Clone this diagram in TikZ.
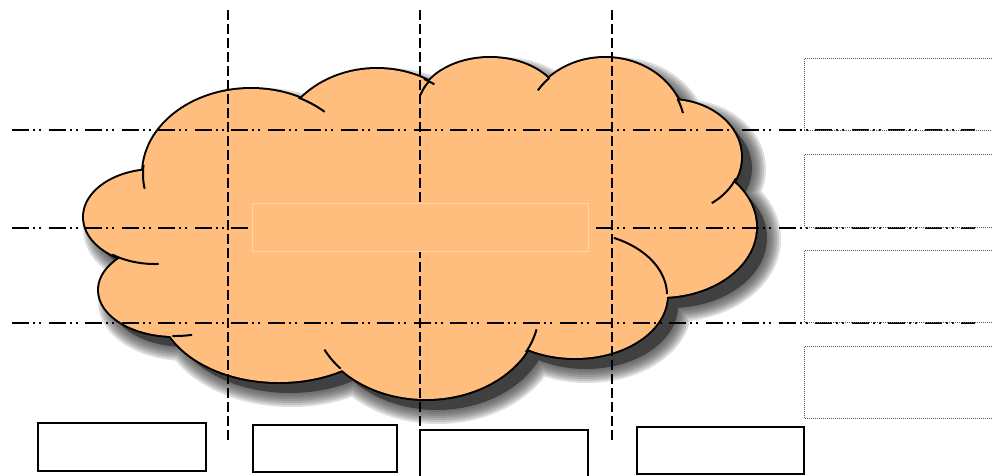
\documentclass[tikz,border=0pt]{standalone}
\usetikzlibrary{calc}
\definecolor{cloudorange}{RGB}{255,190,126}
\definecolor{rectedge}{RGB}{255,214,170}
\definecolor{shadowgray}{RGB}{64,64,64}
\newcommand\mylobes[1]{%
  \path[#1] (251,174) ellipse [x radius=108pt, y radius=85pt];
  \path[#1] (377,154) ellipse [x radius=100pt, y radius=85pt];
  \path[#1] (490,108) ellipse [x radius=72pt, y radius=50pt];
  \path[#1] (605,129) ellipse [x radius=80pt, y radius=71pt];
  \path[#1] (670,157) ellipse [x radius=71pt, y radius=57pt];
  \path[#1] (660,227) ellipse [x radius=96pt, y radius=70pt];
  \path[#1] (575,295) ellipse [x radius=92pt, y radius=63pt];
  \path[#1] (426,311) ellipse [x radius=113pt, y radius=88pt];
  \path[#1] (279,302) ellipse [x radius=120pt, y radius=80pt];
  \path[#1] (175,290) ellipse [x radius=76pt, y radius=46pt];
  \path[#1] (155,217) ellipse [x radius=71pt, y radius=47pt];
}
\newcommand\mytick[6]{% cx cy rx ry a b
  \draw[cloudline, domain=#5:#6, samples=25, variable=\t]
    plot ({#1+#3*cos(\t)},{#2-#4*sin(\t)});
}
\tikzset{
  cloudline/.style={line width=2pt, black},
  vdash/.style={line width=2pt, dash pattern=on 9.5pt off 4.5pt},
  hdashdot/.style={line width=2pt, dash pattern=on 17pt off 4pt on 2pt off 4pt on 2pt off 7.5pt},
  dotbox/.style={line width=0.9pt, black!65, dash pattern=on 1pt off 1pt},
  plainbox/.style={line width=2pt, black, fill=white},
}
\begin{document}
\begin{tikzpicture}[x=1pt,y=-1pt]
\useasboundingbox (0,0) rectangle (992,475);
\fill[white] (0,0) rectangle (992,475);
% soft shadow
\foreach \w in {26,22,18,14,10,6,2}{
  \begin{scope}[shift={(12,12)}, transparency group, opacity=0.17]
    \mylobes{fill=shadowgray, draw=shadowgray, line width=\w pt}
    \path[fill=shadowgray] (420,220) ellipse [x radius=250pt, y radius=120pt];
  \end{scope}
}
\begin{scope}[shift={(11,11)}]
  \mylobes{fill=shadowgray}
\end{scope}
% outline then fill
\mylobes{draw=black, line width=4pt}
\mylobes{fill=cloudorange}
\path[fill=cloudorange] (420,220) ellipse [x radius=250pt, y radius=120pt];
% inner ticks
\mytick{251}{174}{108}{85}{174}{190}
\mytick{251}{174}{108}{85}{47}{64}
\mytick{377}{154}{100}{85}{55}{62}
\mytick{490}{108}{72}{50}{148}{165}
\mytick{605}{129}{80}{71}{134}{147}
\mytick{605}{129}{80}{71}{13}{25}
\mytick{670}{157}{71}{57}{-54}{-22}
\mytick{575}{295}{92}{63}{1}{65}
\mytick{426}{311}{113}{88}{-28}{-12}
\mytick{426}{311}{113}{88}{206}{221}
\mytick{175}{290}{76}{46}{-92}{-77}
\mytick{155}{217}{71}{47}{-127}{-87}
% guide lines
\coordinate (v1t) at (228,10); \coordinate (v1b) at (228,442);
\coordinate (v2t) at (420,10); \coordinate (v2b) at (420,442);
\coordinate (v3t) at (612,10); \coordinate (v3b) at (612,442);
\draw[vdash] (v1t) -- (v1b);
\draw[vdash] (v2t) -- (v2b);
\draw[vdash] (v3t) -- (v3b);
\coordinate (h1l) at (12,130); \coordinate (h1r) at (975,130);
\coordinate (h2l) at (12,228); \coordinate (h2r) at (975,228);
\coordinate (h3l) at (12,323); \coordinate (h3r) at (975,323);
\draw[hdashdot] (h1l) -- (h1r);
\draw[hdashdot] (h2l) -- (h2r);
\draw[hdashdot] (h3l) -- (h3r);
% central rectangle
\draw[fill=cloudorange, draw=rectedge, line width=1pt] (252.5,203.5) rectangle (588.5,251);
% right dotted boxes
\draw[dotbox] (1000,58.5) -- (804.5,58.5) -- (804.5,130) -- (1000,130);
\draw[dotbox] (1000,154.5) -- (804.5,154.5) -- (804.5,227) -- (1000,227);
\draw[dotbox] (1000,250.5) -- (804.5,250.5) -- (804.5,322.5) -- (1000,322.5);
\draw[dotbox] (1000,346.5) -- (804.5,346.5) -- (804.5,418.5) -- (1000,418.5);
% bottom boxes
\draw[plainbox] (38,423) rectangle (206,470.5);
\draw[plainbox] (252.5,425) rectangle (396.5,472);
\draw[plainbox] (420,429.5) rectangle (588,480);
\draw[plainbox] (636.5,427) rectangle (804,473.5);
\end{tikzpicture}
\end{document}
